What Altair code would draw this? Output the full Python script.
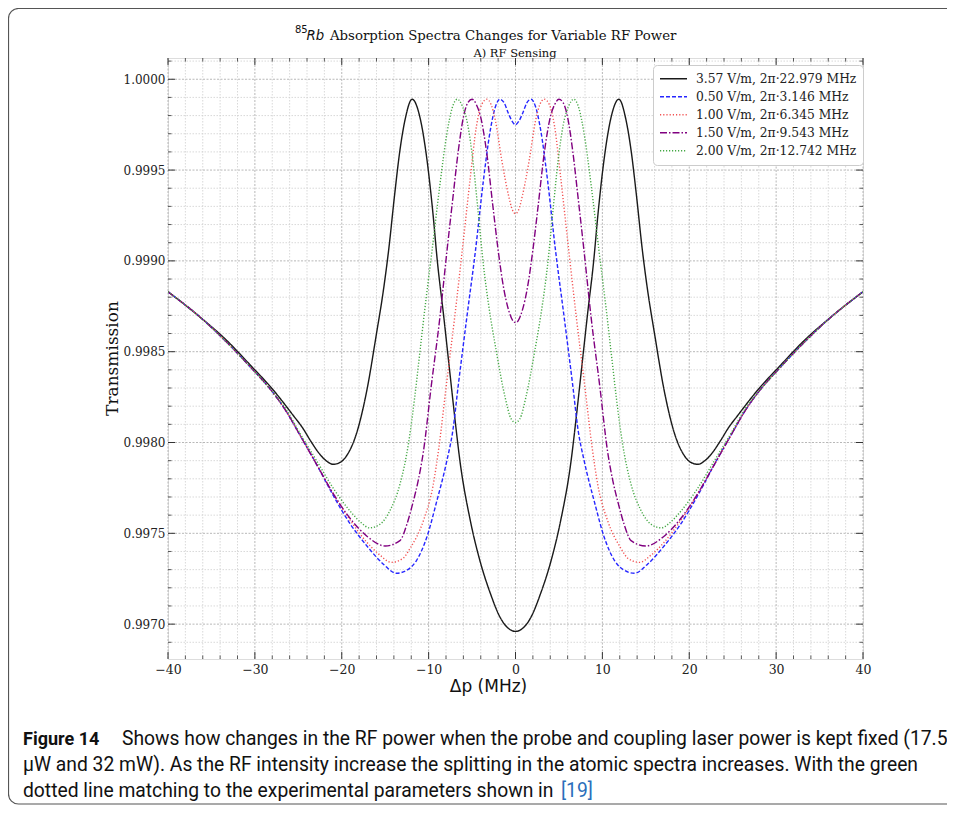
import altair as alt
import pandas as pd

# ---------------- data ----------------
series_names = [
    "3.57 V/m, 2π·22.979 MHz",
    "0.50 V/m, 2π·3.146 MHz",
    "1.00 V/m, 2π·6.345 MHz",
    "1.50 V/m, 2π·9.543 MHz",
    "2.00 V/m, 2π·12.742 MHz",
]

black_x = [-40, -36.3, -33.2, -30.6, -27.9, -25.6, -24.5, -23.6, -22.6, -21.8, -21.0, -20.2, -19.4, -18.3, -17.1,
           -16.0, -15.2, -14.6, -13.9, -13.3, -12.7, -11.9, -11.0, -10.2, -9.5, -9.0, -8.3, -7.5, -6.9, -6.4, -5.2,
           -4.1, -2.9, -1.8, -0.9, 0,
           0.9, 1.8, 2.9, 4.1, 5.2, 6.4, 6.9, 7.5, 8.3, 9.0, 9.5, 10.2, 11.0, 11.9, 12.7, 13.3, 13.9, 14.6, 15.2,
           16.0, 17.1, 18.3, 19.4, 20.2, 21.0, 21.8, 22.6, 23.6, 24.5, 25.6, 27.9, 30.6, 33.2, 36.3, 40]
black_t = [0.99883, 0.99869, 0.99856, 0.99843, 0.99829, 0.99815, 0.99808, 0.99801, 0.99794, 0.99790, 0.99788,
           0.99789, 0.99793, 0.99805, 0.99829, 0.99860, 0.99884, 0.99906, 0.99937, 0.99961, 0.99978, 0.99989,
           0.99979, 0.99956, 0.99926, 0.99900, 0.99871, 0.99836, 0.99810, 0.99790, 0.99757, 0.99735, 0.99717,
           0.99704, 0.99698, 0.99696,
           0.99698, 0.99704, 0.99717, 0.99735, 0.99757, 0.99790, 0.99810, 0.99836, 0.99871, 0.99900, 0.99926,
           0.99956, 0.99979, 0.99989, 0.99978, 0.99961, 0.99937, 0.99906, 0.99884, 0.99860, 0.99829, 0.99805,
           0.99793, 0.99789, 0.99788, 0.99790, 0.99794, 0.99801, 0.99808, 0.99815, 0.99829, 0.99843, 0.99856,
           0.99869, 0.99883]

blue_x = [-40, -36.3, -33.2, -30.6, -28.0, -26.5, -24.8, -22.9, -21.0, -19.0, -17.1, -15.2, -13.7, -12.4, -11.4,
          -10.2, -9.1, -7.9, -7.2, -6.6, -5.6, -4.6, -3.7, -2.9, -2.3, -1.8, -1.3, -0.8, -0.4, 0,
          0.4, 0.8, 1.3, 1.8, 2.3, 2.9, 3.7, 4.6, 5.6, 6.6, 7.2, 7.9, 9.1, 10.2, 11.4, 12.4, 13.7, 15.2, 17.1,
          19.0, 21.0, 22.9, 24.8, 26.5, 28.0, 30.6, 33.2, 36.3, 40]
blue_t = [0.99883, 0.99869, 0.99855, 0.99842, 0.99828, 0.99818, 0.99804, 0.99788, 0.99771, 0.99755, 0.99743,
          0.99733, 0.99728, 0.99730, 0.99735, 0.99748, 0.99767, 0.99790, 0.99807, 0.99831, 0.99869, 0.99906,
          0.99944, 0.99972, 0.99985, 0.99989, 0.99987, 0.99981, 0.99977, 0.99975,
          0.99977, 0.99981, 0.99987, 0.99989, 0.99985, 0.99972, 0.99944, 0.99906, 0.99869, 0.99831, 0.99807,
          0.99790, 0.99767, 0.99748, 0.99735, 0.99730, 0.99728, 0.99733, 0.99743, 0.99755, 0.99771, 0.99788,
          0.99804, 0.99818, 0.99828, 0.99842, 0.99855, 0.99869, 0.99883]

red_x = [-40, -36.3, -33.2, -30.6, -28.0, -26.5, -24.8, -22.9, -21.0, -19.0, -17.1, -15.6, -14.3, -13.0, -12.1,
         -10.6, -9.5, -8.8, -8.0, -7.0, -6.1, -5.2, -4.5, -3.9, -3.3, -2.8, -2.3, -1.6, -0.8, -0.35, 0,
         0.35, 0.8, 1.6, 2.3, 2.8, 3.3, 3.9, 4.5, 5.2, 6.1, 7.0, 8.0, 8.8, 9.5, 10.6, 12.1, 13.0, 14.3, 15.6,
         17.1, 19.0, 21.0, 22.9, 24.8, 26.5, 28.0, 30.6, 33.2, 36.3, 40]
red_t = [0.99883, 0.99869, 0.99855, 0.99842, 0.99828, 0.99818, 0.99804, 0.99788, 0.99772, 0.99757, 0.99745,
         0.99738, 0.99734, 0.99736, 0.99742, 0.99757, 0.99776, 0.99798, 0.99830, 0.99869, 0.99907, 0.99946,
         0.99974, 0.99986, 0.99989, 0.99986, 0.99977, 0.99956, 0.99936, 0.99928, 0.99926,
         0.99928, 0.99936, 0.99956, 0.99977, 0.99986, 0.99989, 0.99986, 0.99974, 0.99946, 0.99907, 0.99869,
         0.99830, 0.99798, 0.99776, 0.99757, 0.99742, 0.99736, 0.99734, 0.99738, 0.99745, 0.99757, 0.99772,
         0.99788, 0.99804, 0.99818, 0.99828, 0.99842, 0.99855, 0.99869, 0.99883]

purple_x = [-40, -36.3, -33.2, -30.6, -28.0, -26.5, -24.8, -22.9, -21.0, -19.0, -17.0, -15.0, -13.3, -12.5, -11.8,
            -11.2, -10.6, -9.7, -8.7, -7.9, -7.2, -6.6, -6.0, -5.5, -5.0, -4.5, -4.0, -3.3, -2.6, -2.0, -1.4, -0.8,
            -0.3, 0,
            0.3, 0.8, 1.4, 2.0, 2.6, 3.3, 4.0, 4.5, 5.0, 5.5, 6.0, 6.6, 7.2, 7.9, 8.7, 9.7, 10.6, 11.2, 11.8, 12.5,
            13.3, 15.0, 17.0, 19.0, 21.0, 22.9, 24.8, 26.5, 28.0, 30.6, 33.2, 36.3, 40]
purple_t = [0.99883, 0.99869, 0.99855, 0.99842, 0.99828, 0.99818, 0.99804, 0.99788, 0.99772, 0.99758, 0.99748,
            0.99743, 0.99746, 0.99755, 0.99767, 0.99779, 0.99795, 0.99831, 0.99869, 0.99905, 0.99935, 0.99960,
            0.99979, 0.99987, 0.99989, 0.99986, 0.99979, 0.99959, 0.99930, 0.99906, 0.99886, 0.99873, 0.99867,
            0.99866,
            0.99867, 0.99873, 0.99886, 0.99906, 0.99930, 0.99959, 0.99979, 0.99986, 0.99989, 0.99987, 0.99979,
            0.99960, 0.99935, 0.99905, 0.99869, 0.99831, 0.99795, 0.99779, 0.99767, 0.99755, 0.99746, 0.99743,
            0.99748, 0.99758, 0.99772, 0.99788, 0.99804, 0.99818, 0.99828, 0.99842, 0.99855, 0.99869, 0.99883]

green_x = [-40, -36.3, -33.2, -30.6, -28.0, -26.5, -24.8, -22.9, -21.0, -19.0, -17.8, -16.8, -15.6, -14.4, -13.3,
           -12.3, -11.6, -11.0, -10.3, -9.6, -8.7, -7.9, -7.3, -6.7, -6.1, -5.5, -4.9, -4.3, -3.7, -3.1, -2.2,
           -1.2, -0.5, 0,
           0.5, 1.2, 2.2, 3.1, 3.7, 4.3, 4.9, 5.5, 6.1, 6.7, 7.3, 7.9, 8.7, 9.6, 10.3, 11.0, 11.6, 12.3, 13.3,
           14.4, 15.6, 16.8, 17.8, 19.0, 21.0, 22.9, 24.8, 26.5, 28.0, 30.6, 33.2, 36.3, 40]
green_t = [0.99883, 0.99869, 0.99855, 0.99842, 0.99828, 0.99819, 0.99805, 0.99790, 0.99775, 0.99762, 0.99756,
           0.99753, 0.99755, 0.99763, 0.99777, 0.99800, 0.99825, 0.99850, 0.99879, 0.99906, 0.99942, 0.99970,
           0.99984, 0.99989, 0.99985, 0.99975, 0.99955, 0.99927, 0.99898, 0.99876, 0.99850, 0.99825, 0.99813,
           0.99811,
           0.99813, 0.99825, 0.99850, 0.99876, 0.99898, 0.99927, 0.99955, 0.99975, 0.99985, 0.99989, 0.99984,
           0.99970, 0.99942, 0.99906, 0.99879, 0.99850, 0.99825, 0.99800, 0.99777, 0.99763, 0.99755, 0.99753,
           0.99756, 0.99762, 0.99775, 0.99790, 0.99805, 0.99819, 0.99828, 0.99842, 0.99855, 0.99869, 0.99883]

x_major = [-40, -30, -20, -10, 0, 10, 20, 30, 40]
x_minor = [-38, -36, -34, -32, -28, -26, -24, -22, -18, -16, -14, -12, -8, -6, -4, -2,
           2, 4, 6, 8, 12, 14, 16, 18, 22, 24, 26, 28, 32, 34, 36, 38]
y_major = [0.9970, 0.9975, 0.9980, 0.9985, 0.9990, 0.9995, 1.0000]
y_minor = [0.9969, 0.9971, 0.9972, 0.9973, 0.9974, 0.9976, 0.9977, 0.9978, 0.9979, 0.9981, 0.9982, 0.9983,
           0.9984, 0.9986, 0.9987, 0.9988, 0.9989, 0.9991, 0.9992, 0.9993, 0.9994, 0.9996, 0.9997, 0.9998,
           0.9999, 1.0001]

title_sup = "85"
title_rb = "Rb"
title_main = "Absorption Spectra Changes for Variable RF Power"
subtitle = "A) RF Sensing"
x_title = "Δp (MHz)"
y_title = "Transmission"
cap_bold = "Figure 14"
cap_1 = "Shows how changes in the RF power when the probe and coupling laser power is kept fixed (17.5"
cap_2 = "μW and 32 mW). As the RF intensity increase the splitting in the atomic spectra increases. With the green"
cap_3 = "dotted line matching to the experimental parameters shown in"
cap_ref = "[19]"

# ---------------- styling ----------------
series_colors = ["#1a1a1a", "#2626ff", "#f25252", "#800080", "#45a845"]
series_dashes = [[1, 0], [4, 2], [1.2, 2], [7, 2, 1.5, 2], [1.2, 1.8]]
series_widths = [1.4, 1.4, 1.3, 1.6, 1.3]

W, H = 695, 601
XDOM = [-40, 40]
YDOM = [0.996808, 1.000117]

rows = []
for name, xs_, ts_ in zip(series_names,
                          [black_x, blue_x, red_x, purple_x, green_x],
                          [black_t, blue_t, red_t, purple_t, green_t]):
    for xv, tv in zip(xs_, ts_):
        rows.append({"series": name, "x": xv, "t": tv})
df = pd.DataFrame(rows)

xs = alt.Scale(domain=XDOM, nice=False, zero=False)
ys = alt.Scale(domain=YDOM, nice=False, zero=False)

x_axis = alt.Axis(values=x_major, grid=False, ticks=False, domain=False,
                  labelPadding=4, labelFont="DejaVu Serif", labelFontSize=12.5,
                  labelColor="#222222", labelFlush=False, labelOverlap=False,
                  labelExpr="replace(datum.label, '-', '\u2212')",
                  title=x_title, titleFont="DejaVu Sans", titleFontSize=17,
                  titleFontWeight="normal", titleColor="#111111",
                  titleX=320, titleY=27, titleAlign="center", titleBaseline="middle")
y_axis = alt.Axis(values=y_major, format=".4f", grid=False, ticks=False, domain=False,
                  labelPadding=3, labelFont="DejaVu Serif", labelFontSize=12,
                  labelColor="#222222", labelFlush=False, labelOverlap=False,
                  title=y_title, titleFont="DejaVu Serif", titleFontSize=17,
                  titleFontWeight="normal", titleColor="#111111",
                  titleAngle=270, titleX=-56, titleY=300,
                  titleAlign="center", titleBaseline="middle")

one = pd.DataFrame({"a": [0]})

def vgrid(vals, color, dash, width):
    return alt.Chart(pd.DataFrame({"v": vals})).mark_rule(
        color=color, strokeDash=dash, strokeWidth=width).encode(
        x=alt.X("v:Q", scale=xs, axis=x_axis))

def hgrid(vals, color, dash, width):
    return alt.Chart(pd.DataFrame({"v": vals})).mark_rule(
        color=color, strokeDash=dash, strokeWidth=width).encode(
        y=alt.Y("v:Q", scale=ys, axis=y_axis))

grid_layers = [
    vgrid(x_minor, "#cfcfcf", [1.5, 1.5], 0.8),
    hgrid(y_minor, "#cfcfcf", [1.5, 1.5], 0.8),
    vgrid(x_major, "#b0b0b0", [2, 1.5], 0.9),
    hgrid(y_major, "#b0b0b0", [2, 1.5], 0.9),
]

legend = alt.Legend(title=None, orient="none", legendX=485, legendY=7,
                    fillColor="white", strokeColor="#cccccc", cornerRadius=4,
                    padding=6, labelFont="DejaVu Serif", labelFontSize=12.3,
                    labelColor="#222222", symbolType="stroke", symbolSize=729,
                    symbolStrokeWidth=1.4, clipHeight=15.5, rowPadding=2,
                    labelOffset=8, labelLimit=400)

lines = alt.Chart(df).mark_line(interpolate="monotone", clip=True).encode(
    x=alt.X("x:Q", scale=xs, axis=x_axis),
    y=alt.Y("t:Q", scale=ys, axis=y_axis),
    color=alt.Color("series:N", sort=series_names,
                    scale=alt.Scale(domain=series_names, range=series_colors), legend=legend),
    strokeDash=alt.StrokeDash("series:N", sort=series_names,
                              scale=alt.Scale(domain=series_names, range=series_dashes), legend=legend),
    strokeWidth=alt.StrokeWidth("series:N", sort=series_names,
                                scale=alt.Scale(domain=series_names, range=series_widths), legend=None),
)

def xtick(vals, y0, y1, width):
    return alt.Chart(pd.DataFrame({"v": vals})).mark_rule(color="#333333", strokeWidth=width).encode(
        x=alt.X("v:Q", scale=xs, axis=x_axis), y=alt.value(y0), y2=alt.value(y1))

def ytick(vals, x0, x1, width):
    return alt.Chart(pd.DataFrame({"v": vals})).mark_rule(color="#333333", strokeWidth=width).encode(
        y=alt.Y("v:Q", scale=ys, axis=y_axis), x=alt.value(x0), x2=alt.value(x1))

y_minor_in = [v for v in y_minor if YDOM[0] <= v <= YDOM[1]]
tick_layers = [
    xtick(x_major, H, H - 7, 1.0), xtick(x_minor, H, H - 3.5, 0.8),
    xtick(x_major, 0, 7, 1.0), xtick(x_minor, 0, 3.5, 0.8),
    ytick(y_major, 0, 7, 1.0), ytick(y_minor_in, 0, 3.5, 0.8),
    ytick(y_major, W, W - 7, 1.0), ytick(y_minor_in, W, W - 3.5, 0.8),
]

def label(text, x, y, font, size, weight="normal", style="normal", color="#111111", align="left"):
    return alt.Chart(one).mark_text(align=align, baseline="alphabetic", font=font, fontSize=size,
                                    fontWeight=weight, fontStyle=style, color=color).encode(
        x=alt.value(x), y=alt.value(y), text=alt.value(text))

text_layers = [
    label(title_sup, 127, -24.7, "DejaVu Sans", 10),
    label(title_rb, 138.5, -18, "DejaVu Sans", 13.3, style="italic"),
    label(title_main, 162, -18, "DejaVu Serif", 13.3),
    label(subtitle, 347, -1.5, "DejaVu Serif", 11.5, align="center"),
    label(cap_bold, -145, 687, "Roboto", 18, weight="bold"),
    label(cap_1, -46, 687, "Roboto", 19.3),
    label(cap_2, -145, 713, "Roboto", 19.3),
    label(cap_3, -145, 739, "Roboto", 19.3),
    label(cap_ref, 393, 739, "Roboto", 19.3, color="#2a6ebb"),
]

frame = alt.Chart(one).mark_rect(fillOpacity=0, stroke="#555555", strokeWidth=1.2,
                                 cornerRadius=10).encode(
    x=alt.value(-159.5), x2=alt.value(900), y=alt.value(-49.5), y2=alt.value(746))

chart = alt.layer(*grid_layers, lines, *tick_layers, *text_layers, frame).properties(
    width=W, height=H,
    padding={"left": 160, "top": 50, "right": 84, "bottom": 146},
    autosize=alt.AutoSizeParams(type="none"),
).configure_view(stroke="#333333", strokeWidth=1).configure(background="white")

chart.save("out.html", embed_options={"renderer": "svg", "actions": False})
